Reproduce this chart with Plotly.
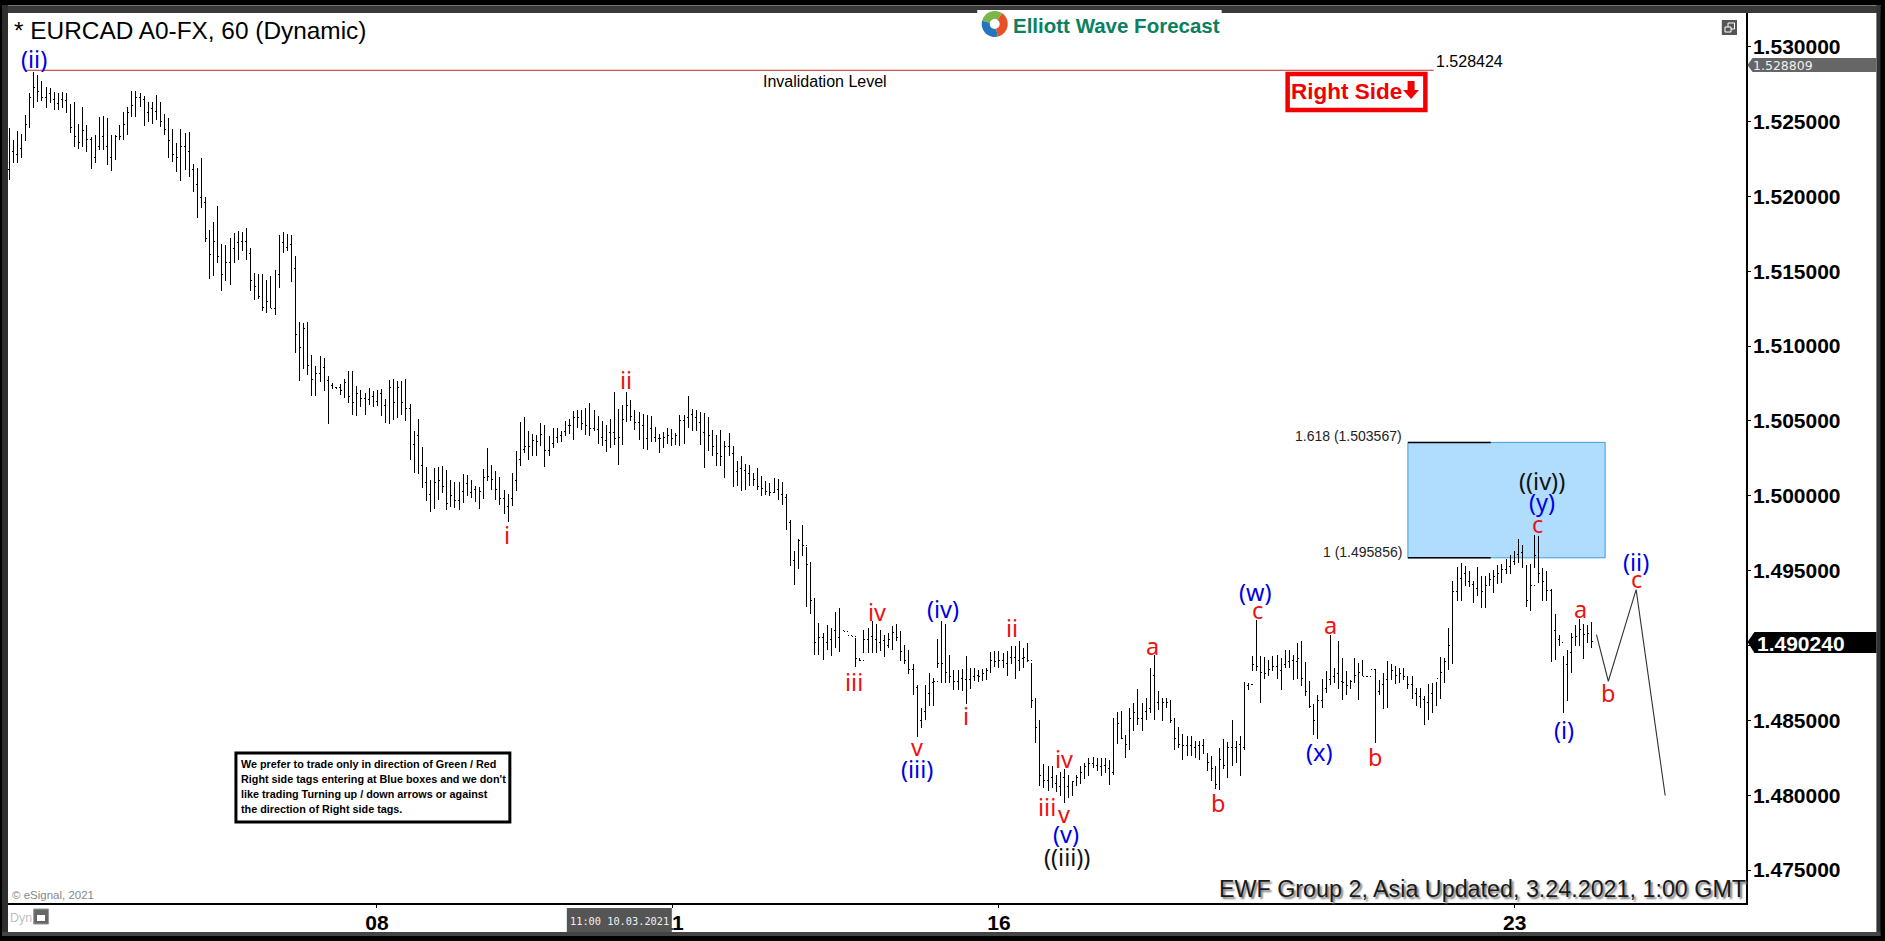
import math
import plotly.graph_objects as go

highs = [
1.52455,1.52377,1.52437,1.52415,1.52544,1.52688,1.52833,1.52811,1.52771,1.52733,
1.52722,1.52700,1.52693,1.52700,1.52688,1.52615,1.52633,1.52482,1.52595,1.52477,
1.52399,1.52410,1.52533,1.52537,1.52522,1.52410,1.52410,1.52477,1.52566,1.52600,
1.52704,1.52704,1.52693,1.52671,1.52633,1.52633,1.52677,1.52633,1.52548,1.52522,
1.52448,1.52359,1.52448,1.52426,1.52430,1.52217,1.52188,1.52255,1.51999,1.51776,
1.51832,1.51936,1.51683,1.51676,1.51721,1.51758,1.51772,1.51765,1.51787,1.51654,
1.51487,1.51483,1.51483,1.51443,1.51465,1.51509,1.51743,1.51761,1.51750,1.51743,
1.51603,1.51164,1.51153,1.51164,1.50942,1.50864,1.50935,1.50920,1.50802,1.50753,
1.50722,1.50748,1.50779,1.50835,1.50835,1.50730,1.50708,1.50686,1.50719,1.50697,
1.50708,1.50713,1.50648,1.50775,1.50779,1.50768,1.50764,1.50779,1.50613,1.50430,
1.50515,1.50326,1.50192,1.50107,1.50185,1.50192,1.50201,1.50174,1.50107,1.50092,
1.50092,1.50148,1.50141,1.50103,1.50067,1.50059,1.50179,1.50319,1.50208,1.50168,
1.50125,1.50041,1.50014,1.50152,1.50301,1.50490,1.50526,1.50430,1.50412,1.50408,
1.50486,1.50475,1.50397,1.50452,1.50452,1.50430,1.50497,1.50512,1.50564,1.50570,
1.50570,1.50586,1.50619,1.50570,1.50530,1.50497,1.50475,1.50512,1.50693,1.50579,
1.50608,1.50690,1.50641,1.50575,1.50559,1.50548,1.50541,1.50530,1.50457,1.50415,
1.50423,1.50452,1.50446,1.50419,1.50541,1.50541,1.50668,1.50579,1.50570,1.50557,
1.50552,1.50526,1.50441,1.50408,1.50437,1.50363,1.50419,1.50334,1.50234,1.50268,
1.50214,1.50208,1.50152,1.50185,1.50130,1.50101,1.50085,1.50119,1.50112,1.50090,
1.50014,1.49840,1.49629,1.49714,1.49807,1.49658,1.49558,1.49318,1.49151,1.49084,
1.49140,1.49117,1.49222,1.49251,1.49100,1.49095,1.49066,1.49051,1.48917,1.49106,
1.49117,1.49162,1.49146,1.49106,1.49073,1.49084,1.49128,1.49146,1.49095,1.49006,
1.48973,1.48879,1.48739,1.48583,1.48739,1.48817,1.48784,1.49044,1.49162,1.49146,
1.48939,1.48839,1.48839,1.48844,1.48928,1.48850,1.48850,1.48835,1.48844,1.48850,
1.48955,1.48962,1.48962,1.48950,1.48962,1.48995,1.48999,1.49028,1.48984,1.49017,
1.48884,1.48650,1.48505,1.48205,1.48198,1.48198,1.48138,1.48154,1.48172,1.48138,
1.48094,1.48138,1.48194,1.48212,1.48250,1.48256,1.48250,1.48250,1.48250,1.48238,
1.48517,1.48554,1.48561,1.48405,1.48583,1.48617,1.48710,1.48617,1.48650,1.48850,
1.48939,1.48695,1.48650,1.48650,1.48639,1.48517,1.48457,1.48412,1.48394,1.48394,
1.48361,1.48361,1.48376,1.48283,1.48261,1.48198,1.48316,1.48372,1.48354,1.48501,
1.48361,1.48394,1.48755,1.48750,1.48928,1.49173,1.48933,1.48924,1.48906,1.48928,
1.48939,1.48917,1.48973,1.48973,1.48939,1.49017,1.49028,1.48888,1.48761,1.48606,
1.48672,1.48777,1.48828,1.49073,1.48850,1.49028,1.48917,1.48828,1.48772,1.48917,
1.48884,1.48906,1.48799,1.48844,1.48844,1.48772,1.48817,1.48895,1.48873,1.48861,
1.48850,1.48850,1.48799,1.48799,1.48717,1.48717,1.48661,1.48746,1.48750,1.48755,
1.48924,1.48917,1.49117,1.49429,1.49525,1.49551,1.49529,1.49496,1.49429,1.49525,
1.49462,1.49467,1.49485,1.49507,1.49540,1.49547,1.49578,1.49607,1.49629,1.49711,
1.49674,1.49540,1.49545,1.49740,1.49734,1.49518,1.49500,1.49378,1.49211,1.49073,
1.48928,1.48973,1.49084,1.49140,1.49178,1.49146,1.49140,1.49155,
]

lows = [
1.52110,1.52221,1.52226,1.52255,1.52370,1.52455,1.52588,1.52633,1.52640,1.52588,
1.52622,1.52577,1.52577,1.52588,1.52555,1.52421,1.52332,1.52315,1.52332,1.52299,
1.52181,1.52226,1.52310,1.52310,1.52210,1.52172,1.52243,1.52377,1.52377,1.52410,
1.52528,1.52528,1.52600,1.52470,1.52499,1.52484,1.52510,1.52466,1.52410,1.52255,
1.52232,1.52166,1.52106,1.52177,1.52132,1.52032,1.51854,1.51921,1.51692,1.51447,
1.51471,1.51554,1.51365,1.51438,1.51409,1.51554,1.51576,1.51632,1.51576,1.51365,
1.51309,1.51313,1.51231,1.51220,1.51253,1.51209,1.51387,1.51625,1.51632,1.51431,
1.50957,1.50764,1.50846,1.50808,1.50668,1.50668,1.50757,1.50697,1.50481,1.50713,
1.50713,1.50675,1.50653,1.50619,1.50541,1.50530,1.50593,1.50541,1.50608,1.50593,
1.50597,1.50530,1.50486,1.50481,1.50508,1.50519,1.50541,1.50497,1.50237,1.50152,
1.50148,1.50052,1.49963,1.49889,1.49912,1.49974,1.50018,1.49903,1.49925,1.49918,
1.49907,1.49952,1.49996,1.49985,1.49956,1.49914,1.49981,1.50096,1.50041,1.49974,
1.49941,1.49881,1.49823,1.49934,1.50034,1.50196,1.50285,1.50241,1.50268,1.50268,
1.50330,1.50190,1.50263,1.50319,1.50352,1.50357,1.50397,1.50415,1.50374,1.50452,
1.50441,1.50403,1.50401,1.50430,1.50348,1.50334,1.50290,1.50317,1.50341,1.50208,
1.50341,1.50490,1.50497,1.50441,1.50374,1.50312,1.50308,1.50359,1.50357,1.50285,
1.50319,1.50348,1.50334,1.50341,1.50334,1.50348,1.50452,1.50430,1.50430,1.50341,
1.50183,1.50297,1.50263,1.50201,1.50196,1.50116,1.50268,1.50059,1.50067,1.50030,
1.50036,1.50063,1.50067,1.50036,1.49996,1.50007,1.49996,1.50018,1.49974,1.49936,
1.49769,1.49533,1.49407,1.49511,1.49596,1.49258,1.49213,1.48939,1.48939,1.48902,
1.48973,1.48928,1.48984,1.48955,1.49095,1.49090,1.49060,1.48857,1.48895,1.48950,
1.48950,1.48950,1.48950,1.48962,1.48924,1.48984,1.48968,1.49028,1.48895,1.48873,
1.48810,1.48672,1.48390,1.48450,1.48505,1.48594,1.48599,1.48850,1.48750,1.48750,
1.48750,1.48701,1.48701,1.48695,1.48612,1.48706,1.48761,1.48755,1.48761,1.48772,
1.48817,1.48857,1.48850,1.48850,1.48799,1.48873,1.48777,1.48828,1.48850,1.48888,
1.48583,1.48350,1.48060,1.48049,1.48027,1.48049,1.48020,1.47994,1.47949,1.47983,
1.47994,1.48060,1.48072,1.48105,1.48127,1.48183,1.48161,1.48127,1.48149,1.48065,
1.48138,1.48339,1.48372,1.48250,1.48299,1.48428,1.48472,1.48428,1.48505,1.48550,
1.48501,1.48572,1.48494,1.48583,1.48483,1.48305,1.48316,1.48238,1.48261,1.48261,
1.48250,1.48234,1.48272,1.48161,1.48094,1.48038,1.48034,1.48176,1.48116,1.48198,
1.48216,1.48127,1.48305,1.48701,1.48828,1.48828,1.48617,1.48777,1.48795,1.48828,
1.48777,1.48701,1.48850,1.48850,1.48772,1.48777,1.48728,1.48661,1.48583,1.48405,
1.48372,1.48583,1.48683,1.48739,1.48750,1.48706,1.48639,1.48666,1.48706,1.48750,
1.48639,1.48795,1.48790,1.48835,1.48350,1.48672,1.48577,1.48583,1.48772,1.48743,
1.48750,1.48772,1.48706,1.48644,1.48594,1.48583,1.48472,1.48505,1.48550,1.48594,
1.48644,1.48750,1.48839,1.48879,1.49295,1.49295,1.49395,1.49391,1.49284,1.49329,
1.49251,1.49251,1.49395,1.49351,1.49413,1.49418,1.49480,1.49480,1.49540,1.49551,
1.49518,1.49258,1.49229,1.49518,1.49418,1.49295,1.49295,1.48888,1.48906,1.48995,
1.48550,1.48628,1.48817,1.48995,1.48995,1.48910,1.49017,1.48984,
]

closes = [
1.52300,1.52280,1.52320,1.52400,1.52480,1.52660,1.52730,1.52700,1.52660,1.52690,
1.52650,1.52620,1.52650,1.52640,1.52590,1.52460,1.52400,1.52360,1.52440,1.52380,
1.52260,1.52330,1.52400,1.52330,1.52260,1.52340,1.52400,1.52400,1.52480,1.52560,
1.52610,1.52660,1.52650,1.52560,1.52590,1.52570,1.52560,1.52500,1.52450,1.52370,
1.52280,1.52260,1.52330,1.52300,1.52180,1.52080,1.51990,1.51960,1.51720,1.51610,
1.51700,1.51600,1.51480,1.51560,1.51650,1.51690,1.51700,1.51700,1.51620,1.51440,
1.51400,1.51330,1.51260,1.51300,1.51250,1.51480,1.51690,1.51660,1.51680,1.51520,
1.51080,1.50990,1.51120,1.50870,1.50780,1.50820,1.50860,1.50770,1.50735,1.50725,
1.50720,1.50700,1.50760,1.50660,1.50620,1.50680,1.50650,1.50640,1.50660,1.50630,
1.50680,1.50600,1.50550,1.50720,1.50620,1.50720,1.50620,1.50580,1.50340,1.50400,
1.50200,1.50090,1.50010,1.49970,1.50090,1.50100,1.50060,1.49950,1.50000,1.49970,
1.50030,1.50080,1.50020,1.50040,1.50000,1.50030,1.50120,1.50130,1.50110,1.50040,
1.49980,1.49930,1.49980,1.50100,1.50240,1.50310,1.50330,1.50330,1.50370,1.50360,
1.50410,1.50300,1.50350,1.50390,1.50400,1.50430,1.50470,1.50470,1.50520,1.50520,
1.50480,1.50470,1.50450,1.50440,1.50390,1.50370,1.50420,1.50420,1.50380,1.50390,
1.50510,1.50600,1.50530,1.50490,1.50470,1.50380,1.50450,1.50390,1.50380,1.50380,
1.50390,1.50400,1.50380,1.50400,1.50500,1.50520,1.50540,1.50520,1.50490,1.50420,
1.50420,1.50400,1.50330,1.50280,1.50260,1.50330,1.50280,1.50160,1.50180,1.50170,
1.50150,1.50100,1.50110,1.50060,1.50050,1.50030,1.50020,1.50040,1.50010,1.49990,
1.49820,1.49570,1.49620,1.49700,1.49670,1.49540,1.49300,1.49020,1.49050,1.49020,
1.49040,1.49100,1.49050,1.49100,1.49095,1.49065,1.49062,1.48910,1.48900,1.49040,
1.49060,1.49040,1.49020,1.49030,1.49000,1.49040,1.49090,1.49050,1.48960,1.48900,
1.48840,1.48720,1.48500,1.48560,1.48680,1.48750,1.48760,1.48880,1.48880,1.48820,
1.48790,1.48760,1.48780,1.48770,1.48770,1.48790,1.48800,1.48790,1.48810,1.48830,
1.48900,1.48890,1.48900,1.48880,1.48920,1.48920,1.48900,1.48910,1.48920,1.48900,
1.48630,1.48450,1.48130,1.48100,1.48120,1.48080,1.48060,1.48120,1.48060,1.48040,
1.48090,1.48120,1.48150,1.48190,1.48210,1.48200,1.48190,1.48200,1.48180,1.48150,
1.48430,1.48480,1.48380,1.48340,1.48510,1.48550,1.48510,1.48560,1.48580,1.48800,
1.48620,1.48620,1.48620,1.48620,1.48500,1.48380,1.48340,1.48330,1.48330,1.48320,
1.48330,1.48330,1.48280,1.48220,1.48180,1.48070,1.48240,1.48200,1.48320,1.48320,
1.48340,1.48320,1.48730,1.48740,1.48870,1.48860,1.48820,1.48810,1.48840,1.48860,
1.48830,1.48870,1.48890,1.48900,1.48890,1.48910,1.48780,1.48690,1.48590,1.48500,
1.48630,1.48710,1.48770,1.48790,1.48810,1.48760,1.48750,1.48730,1.48760,1.48800,
1.48820,1.48795,1.48795,1.48840,1.48690,1.48740,1.48770,1.48810,1.48830,1.48800,
1.48810,1.48790,1.48740,1.48680,1.48660,1.48640,1.48620,1.48680,1.48710,1.48780,
1.48820,1.48890,1.49000,1.49360,1.49450,1.49480,1.49430,1.49410,1.49380,1.49400,
1.49360,1.49400,1.49440,1.49460,1.49480,1.49510,1.49530,1.49560,1.49610,1.49620,
1.49530,1.49300,1.49400,1.49600,1.49480,1.49430,1.49370,1.49100,1.49040,1.49020,
1.48870,1.48950,1.49050,1.49060,1.49110,1.49070,1.49080,1.49024,
]
first_open = 1.52180
assert len(highs) == len(lows) == len(closes), (len(highs), len(lows), len(closes))
opens = [first_open] + closes[:-1]
bar_index = list(range(len(closes)))

tick_positions = [89.9, 162.2, 242.0, 368.1]
tick_labels = ["08", "11", "16", "23"]
y_ticks = [1.475, 1.48, 1.485, 1.49, 1.495, 1.5, 1.505, 1.51, 1.515, 1.52, 1.525, 1.53]

forecast_x = [388.1, 391.0, 397.8, 404.9]
forecast_y = [1.49073, 1.48761, 1.49373, 1.47998]

invalidation = 1.528424
invalidation_x = [3.86, 348.3]
level_low, level_high = 1.495856, 1.503567
last_price, prior_price = 1.490240, 1.528809

WAVES = [
 ("(ii)", 34.3, 58.7, "#0000e6"), ("i", 507.4, 535, "#ee1111"), ("ii", 626, 380, "#ee1111"),
 ("iii", 854, 681.7, "#ee1111"), ("iv", 877, 612, "#ee1111"), ("(iv)", 943, 609, "#0000e6"),
 ("v", 917, 746.7, "#ee1111"), ("(iii)", 917.7, 769, "#0000e6"), ("i", 966, 716, "#ee1111"),
 ("ii", 1012.5, 628, "#ee1111"), ("iii", 1047, 806.7, "#ee1111"), ("iv", 1064.7, 759, "#ee1111"),
 ("v", 1064, 814, "#ee1111"), ("(v)", 1066, 834, "#0000e6"), ("((iii))", 1067, 857, "#111111"),
 ("a", 1153, 646, "#ee1111"), ("b", 1218.6, 803, "#ee1111"), ("(w)", 1256, 591.5, "#0000e6"),
 ("c", 1257.5, 609.5, "#ee1111"), ("a", 1330.9, 625, "#ee1111"), ("(x)", 1319.8, 752, "#0000e6"),
 ("b", 1375.6, 757, "#ee1111"), ("((iv))", 1542.2, 480.7, "#111111"), ("(y)", 1542.2, 501.7, "#0000e6"),
 ("c", 1538.2, 524, "#ee1111"), ("a", 1581.2, 609, "#ee1111"), ("(ii)", 1636.6, 562, "#0000e6"),
 ("c", 1636.6, 579, "#ee1111"), ("(i)", 1564.9, 730, "#0000e6"), ("b", 1608.7, 693, "#ee1111"),
]
NOTE = [
 "We prefer to trade only in direction of Green / Red",
 "Right side tags entering at Blue boxes and we don't",
 "like trading Turning up / down arrows or against",
 "the direction of Right side tags.",
]

W, H = 1885, 941
L, R, T, B = 8, 1746.5, 13, 903
FONT = "Liberation Sans"


def px(x):
    return (x - L) / (R - L)


def py(y):
    return (B - y) / (B - T)


def text(s, x, y, size, color="#000000", anchor="center", weight=None, family=FONT, shadow=None):
    font = dict(family=family, size=size, color=color)
    if weight:
        font["weight"] = weight
    if shadow:
        font["shadow"] = shadow
    return dict(text=s, x=px(x), y=py(y), xref="paper", yref="paper", xanchor=anchor, yanchor="middle",
                showarrow=False, font=font, borderpad=0, borderwidth=0, align=anchor)


def rect(x0, y0, x1, y1, fill, line=None, lw=0, layer="above"):
    return dict(type="rect", xref="paper", yref="paper", x0=px(x0), x1=px(x1), y0=py(y0), y1=py(y1),
                fillcolor=fill, line=dict(color=line or fill, width=lw), layer=layer)


def poly(points, fill, layer="above", lw=0, line=None):
    d = "M " + " L ".join(f"{px(a):.5f},{py(b):.5f}" for a, b in points) + " Z"
    return dict(type="path", xref="paper", yref="paper", path=d, fillcolor=fill,
                line=dict(color=line or fill, width=lw), layer=layer)


def sector(cx, cy, r, a0, a1, fill):
    pts = [(cx, cy)]
    steps = 18
    for k in range(steps + 1):
        a = math.radians(a0 + (a1 - a0) * k / steps)
        pts.append((cx + r * math.cos(a), cy - r * math.sin(a)))
    return poly(pts, fill)


shapes = [
    rect(0, 0, W, H, "#000000", layer="below"),
    rect(2, 5, 1881, 13, "#3a3a3a", layer="below"),
    rect(2, 5, 1881, 6, "#777777", layer="below"),
    rect(2, 5, 8, 936, "#2e2e2e", layer="below"),
    rect(1877, 5, 1881, 936, "#333333", layer="below"),
    rect(2, 932, 1881, 936, "#444444", layer="below"),
    rect(8, 13, 1877, 932, "#ffffff", layer="below"),
    dict(type="rect", xref="paper", yref="y", x0=px(1408.3), x1=px(1605.6), y0=level_low, y1=level_high,
         fillcolor="#b0dcfd", line=dict(color="#3a9fdc", width=1), layer="below"),
    dict(type="line", xref="paper", yref="y", x0=px(1408.3), x1=px(1491.2), y0=level_low, y1=level_low,
         line=dict(color="#000000", width=1.5), layer="below"),
    dict(type="line", xref="paper", yref="y", x0=px(1408.3), x1=px(1491.2), y0=level_high, y1=level_high,
         line=dict(color="#000000", width=1.5), layer="below"),
    # logo
    rect(977.5, 10, 1222, 40, "#ffffff"),
    sector(995, 24, 13, 55, 165, "#7cb648"),
    sector(995, 24, 13, 165, 285, "#2477bd"),
    sector(995, 24, 13, 285, 415, "#e8502a"),
    dict(type="circle", xref="paper", yref="paper", x0=px(990), x1=px(1000), y0=py(19), y1=py(29),
         fillcolor="#ffffff", line=dict(color="#ffffff", width=0), layer="above"),
    # right side tag
    rect(1288, 74, 1425.8, 110, "#ffffff", line="#f00000", lw=4.5),
    poly([(1408, 81), (1415, 81), (1415, 90), (1419.4, 90), (1411.5, 99), (1403.5, 90), (1408, 90)], "#f00000"),
    # note
    rect(236, 753, 510, 822, "#ffffff", line="#000000", lw=3),
    # window icon
    rect(1722.3, 20, 1737.5, 35, "#555555"),
    rect(1728.5, 23, 1735, 29, "#555555", line="#ffffff", lw=1),
    rect(1725.5, 27, 1731.5, 32, "#555555", line="#ffffff", lw=1),
    # lock icon
    rect(33.7, 909, 48.6, 924, "#666666", line="#999999", lw=1),
    rect(37, 915, 45, 921, "#ffffff"),
    # time tag
    rect(567, 908, 672, 932, "#555555"),
    # price tags
    dict(type="path", xref="paper", yref="paper",
         path="M %.5f,%.5f L %.5f,%.5f L %.5f,%.5f L %.5f,%.5f L %.5f,%.5f Z" % (
             px(1748), py(65), px(1753), py(58), px(1877), py(58), px(1877), py(72), px(1753), py(72)),
         fillcolor="#666666", line=dict(color="#666666", width=0), layer="above"),
    dict(type="path", xref="paper", yref="paper",
         path="M %.5f,%.5f L %.5f,%.5f L %.5f,%.5f L %.5f,%.5f L %.5f,%.5f Z" % (
             px(1748), py(642), px(1755), py(632), px(1877), py(632), px(1877), py(653), px(1755), py(653)),
         fillcolor="#000000", line=dict(color="#000000", width=0), layer="above"),
]

ann = [
    text("* EURCAD A0-FX, 60 (Dynamic)", 14, 31, 24.4, anchor="left"),
    text("Elliott Wave Forecast", 1013, 25, 20.5, color="#0b8060", anchor="left", weight=700),
    text("Invalidation Level", 825, 81.6, 16),
    text(f"{invalidation:.6f}", 1436.6, 62, 16, anchor="left"),
    text("Right Side", 1346.5, 91, 22.5, color="#f00000", weight=700),
    text(f"1.618 ({level_high:.6f})", 1402.7, 435.7, 14, color="#222222", anchor="right"),
    text(f"1 ({level_low:.6f})", 1402.7, 551.7, 14, color="#222222", anchor="right"),
    text("© eSignal, 2021", 12, 895, 11.5, color="#888888", anchor="left"),
    text("Dyn", 9.6, 917.7, 12.5, color="#c0c0c0", anchor="left"),
    text("11:00 10.03.2021", 619.5, 921, 10.3, color="#f0f0f0", family="DejaVu Sans Mono"),
    text(f"{prior_price:.6f}", 1753.4, 65.5, 12.5, color="#f0f0f0", anchor="left", family="DejaVu Sans"),
    text(f"{last_price:.6f}", 1758, 643, 21, color="#ffffff", anchor="left", weight=700),
    text("EWF Group 2, Asia Updated, 3.24.2021, 1:00 GMT", 1746, 889, 23.3, color="#1a1a1a", anchor="right",
         shadow="2px 2px 2px #777777"),
]
for s, x, y, c in WAVES:
    ann.append(text(s, x, y, 23.5, color=c, family="Noto Sans"))
for i, line in enumerate(NOTE):
    ann.append(text(line, 241, 764 + 15.1 * i, 10.8, anchor="left", weight=700))

fig = go.Figure()
fig.add_trace(go.Ohlc(x=bar_index, open=opens, high=highs, low=lows, close=closes,
                      increasing_line_color="#000000", decreasing_line_color="#000000",
                      line_width=1, tickwidth=0.25, showlegend=False, hoverinfo="skip"))
fig.add_trace(go.Scatter(x=invalidation_x, y=[invalidation, invalidation], mode="lines",
                         line=dict(color="#c42b2b", width=1), showlegend=False, hoverinfo="skip"))
fig.add_trace(go.Scatter(x=forecast_x, y=forecast_y, mode="lines",
                         line=dict(color="#333333", width=1.1), showlegend=False, hoverinfo="skip"))

x0 = (L - 9.2) / 4.091
x1 = (R - 9.2) / 4.091
y_lo = 1.475 - (B - 870) / 74.9 * 0.005
y_hi = 1.53 + (46.7 - T) / 74.9 * 0.005

fig.update_layout(
    width=W, height=H, autosize=False,
    margin=dict(l=L, r=W - R, t=T, b=H - B, pad=0),
    paper_bgcolor="#000000", plot_bgcolor="rgba(0,0,0,0)",
    showlegend=False, shapes=shapes, annotations=ann,
    xaxis=dict(range=[x0, x1], rangeslider=dict(visible=False), showgrid=False, zeroline=False,
               automargin=False, tickmode="array", tickvals=tick_positions, ticktext=tick_labels,
               ticks="outside", ticklen=3, tickcolor="#000", tickwidth=1, ticklabelstandoff=-3,
               tickfont=dict(family=FONT, size=21, color="#000", weight=700),
               showline=True, linecolor="#000", linewidth=1.5),
    yaxis=dict(range=[y_lo, y_hi], side="right", showgrid=False, zeroline=False,
               automargin=False, tickmode="array", tickvals=y_ticks, tickformat=".6f",
               ticks="outside", ticklen=3, tickcolor="#000", tickwidth=1, ticklabelstandoff=-2,
               tickfont=dict(family=FONT, size=21, color="#000", weight=700),
               showline=True, linecolor="#000", linewidth=1.5),
)

fig.write_html("out.html", config=dict(displayModeBar=False),
               post_script=("document.body.style.margin='0';document.body.style.overflow='hidden';"
                            "var s=document.createElement('style');"
                            "s.textContent='.ohlc path{shape-rendering:crispEdges}';"
                            "document.head.appendChild(s);"))
